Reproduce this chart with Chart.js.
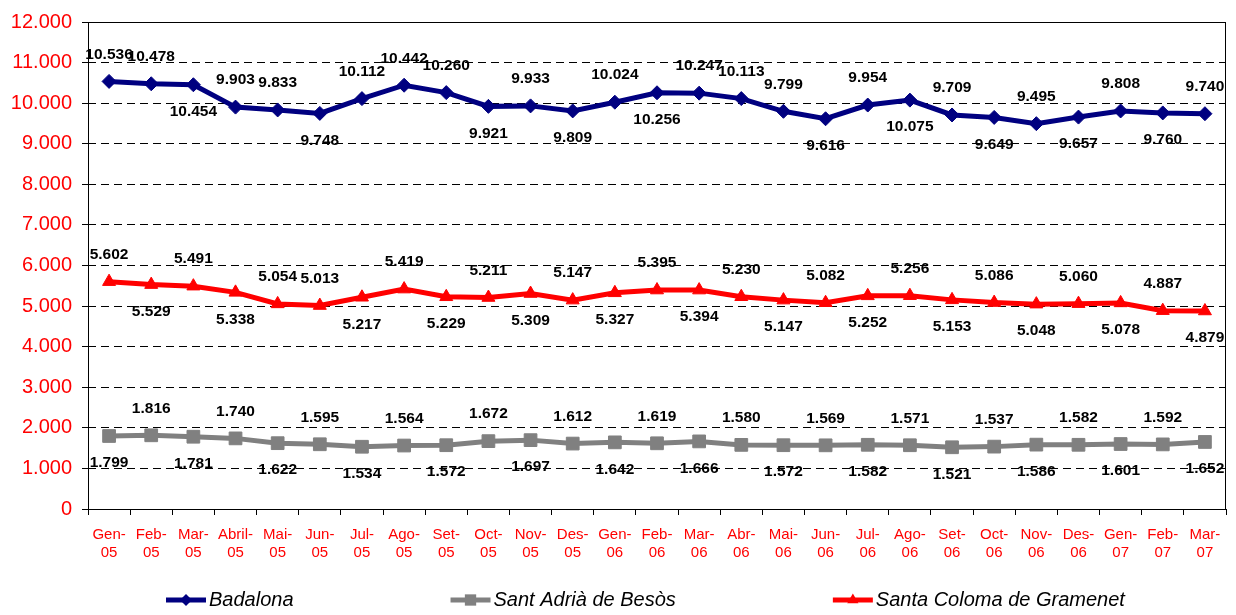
<!DOCTYPE html>
<html>
<head>
<meta charset="utf-8">
<script src="https://cdn.jsdelivr.net/npm/chart.js@4/dist/chart.umd.min.js"></script>
<style>
  html, body { margin: 0; padding: 0; background: #fff; }
  #wrap { width: 1236px; height: 615px; }
</style>
</head>
<body>
<div id="wrap"><canvas id="cityChart" width="1236" height="615"></canvas></div>
<script>
// months on the x axis (two-line labels)
const months = [
  ["Gen-", "05"], ["Feb-", "05"], ["Mar-", "05"], ["Abril-", "05"], ["Mai-", "05"], ["Jun-", "05"],
  ["Jul-", "05"], ["Ago-", "05"], ["Set-", "05"], ["Oct-", "05"], ["Nov-", "05"], ["Des-", "05"],
  ["Gen-", "06"], ["Feb-", "06"], ["Mar-", "06"], ["Abr-", "06"], ["Mai-", "06"], ["Jun-", "06"],
  ["Jul-", "06"], ["Ago-", "06"], ["Set-", "06"], ["Oct-", "06"], ["Nov-", "06"], ["Des-", "06"],
  ["Gen-", "07"], ["Feb-", "07"], ["Mar-", "07"]
];

const badalona = [
  10536, 10478, 10454, 9903, 9833, 9748, 10112, 10442, 10260, 9921, 9933, 9809,
  10024, 10256, 10247, 10113, 9799, 9616, 9954, 10075, 9709, 9649, 9495, 9657,
  9808, 9760, 9740
];

const santAdria = [
  1799, 1816, 1781, 1740, 1622, 1595, 1534, 1564, 1572, 1672, 1697, 1612,
  1642, 1619, 1666, 1580, 1572, 1569, 1582, 1571, 1521, 1537, 1586, 1582,
  1601, 1592, 1652
];

const santaColoma = [
  5602, 5529, 5491, 5338, 5054, 5013, 5217, 5419, 5229, 5211, 5309, 5147,
  5327, 5395, 5394, 5230, 5147, 5082, 5252, 5256, 5153, 5086, 5048, 5060,
  5078, 4887, 4879
];

const yTicks = { min: 0, max: 12000, step: 1000 };

// where each value label sits: a = above the point, b = below
const badalonaSide = [
  "a", "a", "b", "a", "a", "b", "a", "a", "a", "b", "a", "b",
  "a", "b", "a", "a", "a", "b", "a", "b", "a", "b", "a", "b",
  "a", "b", "a"
];
const santAdriaSide = [
  "b", "a", "b", "a", "b", "a", "b", "a", "b", "a", "b", "a",
  "b", "a", "b", "a", "b", "a", "b", "a", "b", "a", "b", "a",
  "b", "a", "b"
];
const santaColomaSide = [
  "a", "b", "a", "b", "a", "a", "b", "a", "b", "a", "b", "a",
  "b", "a", "b", "a", "b", "a", "b", "a", "b", "a", "b", "a",
  "b", "a", "b"
];

const FONT = "'Liberation Sans', Arial, sans-serif";

function fmtThousands(v) {
  return String(v).replace(/\B(?=(\d{3})+(?!\d))/g, ".");
}

function drawMarker(ctx, style, x, y, r) {
  ctx.beginPath();
  if (style === "rectRot") {
    ctx.moveTo(x, y - r);
    ctx.lineTo(x + r, y);
    ctx.lineTo(x, y + r);
    ctx.lineTo(x - r, y);
  } else if (style === "rect") {
    const s = r * Math.SQRT1_2;
    ctx.rect(x - s, y - s, 2 * s, 2 * s);
  } else {
    ctx.moveTo(x, y - r);
    ctx.lineTo(x + r * 0.866, y + r * 0.5);
    ctx.lineTo(x - r * 0.866, y + r * 0.5);
  }
  ctx.closePath();
  ctx.fill();
}

const plotFrame = {
  id: "plotFrame",
  beforeDatasetsDraw(chart) {
    const { ctx, chartArea: a } = chart;
    ctx.save();
    ctx.strokeStyle = "#000";
    ctx.lineWidth = 1;
    ctx.strokeRect(Math.round(a.left) + 0.5, Math.round(a.top) + 0.5,
      Math.round(a.right - a.left) - 1, Math.round(a.bottom - a.top));
    ctx.restore();
  }
};

const pointLabels = {
  id: "pointLabels",
  afterDatasetsDraw(chart) {
    const ctx = chart.ctx;
    ctx.save();
    ctx.font = "bold 15.5px " + FONT;
    ctx.fillStyle = "#000";
    ctx.textAlign = "center";
    ctx.textBaseline = "middle";
    chart.data.datasets.forEach((ds, i) => {
      chart.getDatasetMeta(i).data.forEach((pt, j) => {
        const dy = ds.labelSide[j] === "a" ? -27 : 27;
        ctx.fillText(fmtThousands(ds.data[j]), pt.x, pt.y + dy);
      });
    });
    ctx.restore();
  }
};

const lineLegend = {
  id: "lineLegend",
  afterDraw(chart) {
    const ctx = chart.ctx;
    const y = 600;
    let x = 166;
    ctx.save();
    ctx.font = "italic 20px " + FONT;
    ctx.textBaseline = "middle";
    chart.data.datasets.forEach((ds) => {
      ctx.strokeStyle = ds.borderColor;
      ctx.lineWidth = 5;
      ctx.beginPath();
      ctx.moveTo(x, y);
      ctx.lineTo(x + 40, y);
      ctx.stroke();
      ctx.fillStyle = ds.borderColor;
      drawMarker(ctx, ds.pointStyle, x + 20, y, ds.pointRadius - 1);
      ctx.fillStyle = "#000";
      ctx.fillText(ds.label, x + 43, y);
      x += 43 + ctx.measureText(ds.label).width + 157;
    });
    ctx.restore();
  }
};

const canvas = document.getElementById("cityChart");

new Chart(canvas, {
  type: "line",
  data: {
    labels: months,
    datasets: [
      {
        label: "Badalona",
        data: badalona,
        labelSide: badalonaSide,
        borderColor: "#000080",
        backgroundColor: "#000080",
        borderWidth: 5,
        pointStyle: "rectRot",
        pointRadius: 7,
        pointBorderWidth: 1,
        tension: 0,
      },
      {
        label: "Sant Adrià de Besòs",
        data: santAdria,
        labelSide: santAdriaSide,
        borderColor: "#808080",
        backgroundColor: "#808080",
        borderWidth: 5,
        pointStyle: "rect",
        pointRadius: 9,
        pointBorderWidth: 1,
        tension: 0,
      },
      {
        label: "Santa Coloma de Gramenet",
        data: santaColoma,
        labelSide: santaColomaSide,
        borderColor: "#FF0000",
        backgroundColor: "#FF0000",
        borderWidth: 5,
        pointStyle: "triangle",
        pointRadius: 7.5,
        pointBorderWidth: 1,
        tension: 0,
      },
    ],
  },
  options: {
    responsive: false,
    animation: false,
    layout: { padding: { top: 16, right: 2, bottom: 46, left: 0 } },
    plugins: {
      legend: { display: false },
      tooltip: { enabled: false },
    },
    scales: {
      x: {
        offset: true,
        grid: { offset: true, drawOnChartArea: false, color: "#000", tickLength: 6 },
        border: { display: false },
        ticks: {
          color: "#FF0000",
          font: { family: FONT, size: 15 },
          padding: 11,
          maxRotation: 0,
          autoSkip: false,
        },
        afterFit(scale) { scale.height = 60; },
      },
      y: {
        min: yTicks.min,
        max: yTicks.max,
        grid: { color: "#000", tickLength: 6 },
        border: { display: false, dash: [8, 5] },
        ticks: {
          stepSize: yTicks.step,
          color: "#FF0000",
          font: { family: FONT, size: 20 },
          padding: 10,
          callback: (v) => fmtThousands(v),
        },
        afterFit(scale) { scale.width = 88; },
      },
    },
  },
  plugins: [plotFrame, pointLabels, lineLegend],
});
</script>
</body>
</html>
